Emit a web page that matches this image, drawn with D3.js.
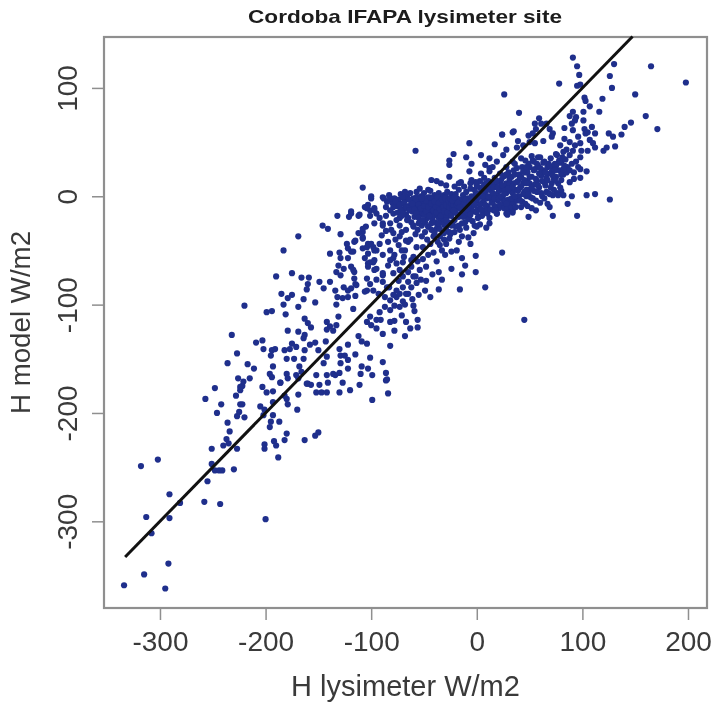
<!DOCTYPE html>
<html><head><meta charset="utf-8">
<script src="https://cdn.jsdelivr.net/npm/d3@7/dist/d3.min.js"></script>
<style>html,body{margin:0;background:#fff}svg{display:block;filter:blur(0.6px)}text{font-family:"Liberation Sans",Arial,sans-serif;fill:#333}</style>
</head><body><svg id="c" width="714" height="703"></svg>
<script>
const chartTitle="Cordoba IFAPA lysimeter site", xTitle="H lysimeter W/m2", yTitle="H model W/m2";
const xTicks=[-300,-200,-100,0,100,200], yTicks=[-300,-200,-100,0,100];
const oneToOne=[-333,147.5];
const lowTail=[[-334,-359],[-315,-349],[-295,-362],[-292,-339],[-308,-311],[-313,-296],[-291,-297],[-291,-275],[-281,-283],[-318,-249],[-302,-243],[-258,-282],[-243,-284],[-255,-263],[-200,-298],[-230,-252],[-248,-253],[-244,-253],[-241,-253],[-251,-247],[-251,-233],[-240,-230],[-237,-224],[-235,-228],[-227,-233],[-234,-217],[-236,-209],[-188,-241],[-201,-229],[-201,-233],[-192,-226],[-190,-230],[-182,-225],[-180,-219],[-163,-225],[-153,-221],[-150,-218],[-187,-208],[-196,-213],[-195,-208],[-246,-200],[-220,-204],[-227,-203],[-225,-199],[-242,-192],[-257,-187],[-248,-177],[-224,-192],[-222,-192],[-228,-184],[-224,-179],[-222,-175],[-205,-194],[-201,-197],[-202,-202],[-193,-202],[-170,-197],[-179,-192],[-180,-187],[-169,-183],[-182,-184],[-193,-190],[-203,-176],[-199,-181],[-193,-180],[-186,-172],[-160,-173],[-157,-174],[-152,-181],[-147,-181],[-142,-181],[-99,-188],[-86,-170],[-84,-182],[-120,-179],[-134,-165],[-111,-174],[-130,-181],[-149,-174],[-99,-165]];
const upperLeft=[[-169,-37],[-183,-50],[-220,-101],[-232,-128],[-227,-145],[-236,-154],[-175,-71],[-190,-74],[-166,-75],[-159,-75],[-160,-81],[-161,-86],[-149,-79],[-145,-85],[-139,-79],[-132,-18],[-146,-27],[-141,-30],[-129,-35],[-139,-53],[-119,-14],[-121,-19],[-111,-17],[-105,-28],[-108,-33],[-108,-38],[-115,-41],[-123,-44],[-122,-48],[-117,-51],[-130,-52],[-129,-57],[-122,-57],[-131,-64],[-133,-70],[-129,-73],[-126,-67],[-119,-65],[-116,-70],[-134,-87],[-132,-93],[-126,-84],[-122,-87],[-115,-81],[-119,-85],[-127,-94],[-122,-93],[-115,-92],[-133,-100],[-153,-98],[-164,-95],[-169,-102],[-185,-90],[-179,-94],[-175,-91],[-183,-100],[-199,-107],[-194,-106],[-181,-109],[-163,-113],[-160,-117],[-157,-121],[-179,-124],[-169,-125],[-163,-128],[-164,-131],[-142,-116],[-139,-120],[-142,-123],[-131,-111],[-133,-119],[-136,-124],[-117,-104],[-203,-133],[-209,-135],[-202,-141],[-194,-142],[-191,-141],[-195,-147],[-182,-142],[-175,-136],[-171,-139],[-177,-141],[-180,-150],[-173,-150],[-163,-142],[-164,-150],[-158,-137],[-153,-135],[-150,-142],[-143,-134],[-142,-148],[-145,-154],[-217,-155],[-211,-159],[-226,-168],[-215,-168],[-221,-171],[-224,-176],[-193,-157],[-196,-164],[-194,-167],[-180,-164],[-179,-168],[-186,-172],[-168,-157],[-166,-162],[-171,-165],[-169,-168],[-161,-173],[-152,-165],[-142,-165],[-136,-164],[-130,-163],[-141,-172],[-127,-172],[-130,-141],[-129,-147],[-122,-137],[-125,-147],[-115,-146],[-129,-154],[-122,-151],[-122,-159],[-109,-157],[-110,-164],[-103,-159],[-89,-153],[-86,-163],[-85,-169],[-101,-149],[-112,-129],[-109,-134],[-104,-136]];
const middleLeft=[[-82,-138],[-68,-129],[-89,-127],[-95,-122],[-82,-116],[-78,-124],[-67,-116],[-56,-114],[-56,-121],[-101,-111],[-95,-114],[-104,-116],[-100,-119],[-92,-107],[-87,-102],[-82,-105],[-78,-101],[-73,-102],[-59,-106],[-87,-93],[-82,-96],[-76,-93],[-70,-97],[-65,-90],[-76,-87],[-104,-76],[-101,-81],[-95,-77],[-98,-87],[-104,-87],[-93,-90],[-85,-84],[-89,-73],[-79,-71],[-70,-74],[-103,-62],[-98,-61],[-95,-67],[-82,-59],[-76,-62],[-70,-61],[-62,-59],[-82,-50],[-78,-54],[-103,-44],[-98,-47],[-108,-48],[-95,-50],[-103,-53],[-79,-34],[-82,-25],[-76,-22],[-89,-25],[-97,-25],[-71,-33],[-67,-41],[-101,-13],[-97,-11],[-106,-10],[-95,-16],[-100,0],[-108,-30],[-112,-34],[-108,-39],[-116,-42],[-100,-44],[-104,-47],[-97,-50],[-119,-51],[-106,-57],[-101,-61],[-97,-59],[-103,-65],[-97,-68],[-89,-71],[-89,-54],[-79,-57],[-84,-64],[-69,-56],[-73,-68],[-54,-68],[-60,-74],[-48,-65],[-65,-79],[-70,-84],[-57,-80],[-49,-87],[-44,-93],[-67,-90],[-79,-91],[-73,-90],[-89,-79],[-106,-88],[-114,-82],[-117,-68],[-116,-76],[-46,-54],[-51,-47],[-44,-44],[-60,-56],[-57,-47],[-68,-50],[-65,-42],[-74,-45],[-73,-37],[-81,-31],[-89,-27],[-67,-31],[-60,-28],[-52,-27],[-46,-28],[-73,-27],[-41,-37],[-35,-37],[-26,-39],[-21,-33],[-14,-37],[-29,-31],[-62,-65],[-56,-60],[-51,-58],[-65,-70],[-58,-74],[-53,-77],[-62,-84],[-74,-78],[-83,-84],[-68,-100],[-61,-95],[-55,-91],[-48,-78],[-42,-72],[-38,-60],[-41,-52],[-33,-50],[-52,-37],[-58,-35],[-63,-40],[-47,-40],[-38,-30],[-84,-42],[-90,-36],[-86,-32],[-77,-40],[-71,-50],[-92,-44],[-60,-101],[-71,-110],[-78,-115],[-91,-114],[-63,-122]];
const denseLeft=[[-88,-2],[-85,-5],[-83,1],[-80,-6],[-78,-2],[-76,-9],[-74,-3],[-72,2],[-71,-7],[-69,-12],[-68,-4],[-66,0],[-65,-9],[-63,3],[-62,-5],[-61,-14],[-60,-2],[-58,-8],[-57,4],[-56,-11],[-55,-4],[-54,-17],[-53,0],[-52,-7],[-51,-13],[-50,3],[-49,-3],[-48,-10],[-47,-20],[-46,-1],[-45,-6],[-44,5],[-43,-14],[-42,-3],[-41,-9],[-40,1],[-39,-17],[-38,-5],[-37,-12],[-36,3],[-35,-2],[-34,-8],[-33,-22],[-32,-15],[-31,1],[-30,-5],[-29,-11],[-28,4],[-27,-18],[-26,-3],[-25,-8],[-86,-10],[-82,-13],[-79,-16],[-75,-15],[-73,-20],[-70,-1],[-67,-17],[-64,-3],[-62,-24],[-59,-19],[-57,-1],[-55,-25],[-53,-15],[-50,-17],[-49,-24],[-47,-6],[-45,-15],[-43,-25],[-41,-18],[-39,-2],[-37,-27],[-36,-20],[-34,0],[-33,-12],[-31,-26],[-30,-18],[-28,-7],[-27,-24],[-25,-14],[-24,2],[-54,7],[-46,6],[-68,4],[-89,-1],[-82,-2],[-100,-2],[-103,-8],[-104,-11],[-119,-16],[-112,-18],[-97,-13],[-101,-18],[-92,-20],[-86,-18],[-108,8],[-79,-10],[-72,-12],[-65,-20],[-60,-9],[-56,-6],[-51,-1],[-48,-5],[-44,-9],[-40,-12],[-36,-9],[-32,-5],[-29,-1],[-58,-3],[-63,-11],[-70,-16],[-47,-14],[-42,-21],[-35,-16]];
const denseLeftFill=[[-77,-5],[-73,-8],[-69,-6],[-67,-10],[-64,-13],[-61,-7],[-59,-12],[-57,-16],[-55,-8],[-53,-11],[-52,-2],[-50,-9],[-48,-14],[-46,-10],[-45,-18],[-44,-1],[-43,-7],[-41,-13],[-40,-5],[-39,-10],[-38,-15],[-37,-1],[-36,-6],[-35,-12],[-34,-18],[-33,-3],[-32,-10],[-31,-14],[-30,-2],[-29,-8],[-28,-15],[-27,-4],[-26,-10],[-25,-2],[-24,-7],[-24,-18],[-23,-12],[-22,-1],[-22,-8],[-20,-5],[-20,-15],[-19,-2],[-18,-11],[-17,-19],[-17,-5],[-15,-7],[-14,-15],[-13,-9],[-12,-2],[-12,-13],[-10,-6],[-10,-19],[-8,-3],[-8,-15],[-6,-8],[-5,-12],[-71,-18],[-66,-22],[-60,-27],[-55,-20],[-51,-22],[-46,-28],[-40,-24],[-35,-30],[-29,-28],[-23,-24],[-17,-27],[-11,-24],[-56,-31],[-49,-33],[-43,-31],[-37,-42],[-31,-40],[-25,-35]];
const denseMid=[[-23,-4],[-22,-13],[-21,-22],[-20,2],[-19,-8],[-18,-17],[-17,6],[-16,-3],[-15,-11],[-14,-25],[-13,1],[-12,-7],[-11,-16],[-10,4],[-9,-2],[-8,-10],[-7,-21],[-6,7],[-5,0],[-4,-6],[-3,-14],[-2,-27],[-1,3],[0,-4],[1,-12],[2,-19],[3,8],[4,1],[5,-6],[6,-15],[7,11],[8,4],[9,-2],[10,-9],[11,14],[12,-20],[13,6],[14,0],[15,-5],[16,-13],[17,17],[18,9],[19,2],[20,-4],[21,-11],[22,13],[23,6],[24,-1],[25,-8],[26,19],[27,10],[28,3],[29,-5],[30,-13],[-21,-1],[-18,-6],[-16,-10],[-13,-19],[-11,-3],[-9,-12],[-7,-6],[-6,-17],[-3,-2],[-2,6],[0,10],[1,2],[3,-8],[5,5],[7,-3],[9,-11],[11,6],[13,-2],[15,12],[17,-9],[19,-16],[21,5],[23,15],[25,-3],[28,12],[30,22],[32,5],[33,-4],[12,26],[7,17],[3,14],[-1,13],[-6,12],[-12,9],[-17,12],[-26,18],[-43,15],[-38,14],[-34,12],[-29,10],[-21,9],[-15,13],[-5,15],[4,21],[12,23],[22,21],[28,27],[34,32],[-58,42],[-7,49],[-22,39],[-26,33],[-26,29],[-10,36],[-5,30],[-7,23],[17,48],[24,57],[34,59],[4,38],[12,35],[19,32],[25,38],[8,29],[15,27],[24,-52],[-1,-55],[-30,-54],[-24,-51],[-19,-50],[-14,-57],[-11,-64],[-24,-67],[-14,-72],[-1,-70],[-36,-70],[-33,-77],[-36,-86],[-16,-86],[45,-114],[8,-84],[12,-25],[0,-28],[-3,-34],[-8,-38],[-35,-45],[-29,-44],[28,-16],[34,-13],[19,-16],[-20,-28],[-16,-31],[-10,-29],[-4,-23],[3,-26],[9,-29],[-24,-27],[-29,-22],[-31,-34],[-26,-33],[-17,-42],[-6,-44],[-40,-34],[-36,-25]];
const denseMidFill=[[-2,-8],[0,-15],[1,-20],[2,-1],[3,3],[4,-12],[5,-18],[6,0],[7,6],[8,-8],[9,12],[10,-16],[11,0],[12,9],[13,-12],[14,-6],[15,3],[16,8],[17,-2],[18,-13],[19,14],[20,8],[21,-2],[22,-8],[23,0],[24,10],[25,18],[26,-11],[26,5],[27,-4],[28,20],[29,-10],[30,6],[30,-3],[31,12],[32,-9],[33,18],[34,3],[35,-6],[35,12],[36,20],[37,6],[38,-4],[39,14],[40,0],[41,8],[42,18],[43,-5],[44,12],[45,4],[46,22],[47,0],[48,14],[49,6]];
const denseRight=[[26,2],[28,-7],[30,7],[31,16],[33,-2],[34,9],[35,24],[36,0],[37,-10],[38,13],[39,5],[40,20],[41,-4],[42,9],[43,27],[44,2],[45,15],[46,-7],[47,6],[48,22],[49,30],[50,12],[51,-1],[52,18],[53,33],[54,5],[55,25],[56,-4],[57,14],[58,28],[59,8],[60,36],[61,19],[62,0],[63,24],[64,32],[65,10],[66,17],[67,27],[68,3],[69,21],[70,35],[71,12],[72,26],[73,6],[74,30],[75,18],[76,38],[78,24],[79,8],[80,31],[82,20],[84,34],[86,27],[88,13],[90,30],[92,22],[94,32],[96,27],[98,25],[36,30],[38,26],[42,35],[46,33],[41,17],[44,23],[47,12],[50,27],[52,37],[55,11],[57,30],[59,21],[61,3],[64,13],[66,4],[68,30],[71,23],[73,16],[75,28],[77,12],[81,36],[50,18],[52,8],[54,24],[56,16],[58,10],[60,26],[62,14],[63,31],[65,22],[67,15],[69,28],[70,8],[72,19],[74,24],[76,30],[78,33],[80,20],[83,28],[85,22],[54,32],[58,36],[47,27],[49,2],[53,-2],[57,4],[60,-6],[64,-2],[67,-7],[72,1],[76,3],[48,-9],[56,-13],[42,-10]];
const upperRight=[[91,128],[95,120],[97,112],[95,102],[98,103],[78,104],[130,122],[126,111],[128,100],[165,120],[198,105],[150,94],[119,90],[102,91],[103,88],[26,94],[107,83],[116,78],[101,78],[91,78],[94,73],[88,74],[93,70],[40,77],[160,74],[146,68],[140,64],[171,62],[137,57],[131,46],[59,72],[55,67],[61,67],[66,67],[56,62],[101,70],[90,67],[102,62],[83,63],[91,61],[109,64],[112,58],[103,58],[105,59],[125,58],[129,55],[69,62],[72,58],[71,55],[35,60],[24,57],[49,56],[53,58],[39,51],[38,45],[28,43],[63,51],[55,49],[50,50],[44,47],[83,53],[88,50],[96,55],[98,49],[93,47],[79,47],[85,43],[107,52],[110,49],[112,45],[105,42],[123,45],[120,42],[99,42],[98,36],[88,38],[91,42],[82,41],[75,39],[104,23],[98,17],[92,16],[88,24],[82,25],[80,15],[74,15],[90,0],[104,1],[112,2],[126,-3],[86,-7],[69,-10],[72,-18],[95,-18],[49,-19],[52,-11],[29,-17],[34,-15],[80,5],[77,1],[82,1],[69,2]];
const allPoints=[...lowTail,...upperLeft,...middleLeft,...denseLeft,...denseLeftFill,...denseMid,...denseMidFill,...denseRight,...upperRight];

const svg=d3.select("#c");
const x=d3.scaleLinear().domain([-353,218]).range([104,707]);
const y=d3.scaleLinear().domain([147,-380]).range([37,608]);
const ink="#8f8f8f";
svg.append("rect").attr("x",104).attr("y",37).attr("width",603).attr("height",571).attr("fill","none").attr("stroke",ink).attr("stroke-width",2.2);
svg.append("g").selectAll("circle").data(allPoints).join("circle")
  .attr("cx",d=>x(d[0])).attr("cy",d=>y(d[1])).attr("r",3.1).attr("fill","#1f2f8c");
svg.append("line").attr("x1",x(oneToOne[0])).attr("y1",y(oneToOne[0])).attr("x2",x(oneToOne[1])).attr("y2",y(oneToOne[1]))
  .attr("stroke","#111").attr("stroke-width",3);
const gx=svg.append("g").attr("transform","translate(0,608)").call(d3.axisBottom(x).tickValues(xTicks).tickSize(12).tickFormat(String));
const gy=svg.append("g").attr("transform","translate(104,0)").call(d3.axisLeft(y).tickValues(yTicks).tickSize(12).tickFormat(String));
[gx,gy].forEach(g=>{g.select(".domain").remove();g.selectAll("line").attr("stroke",ink).attr("stroke-width",1.5);g.selectAll("text").attr("font-size",28).style("font-family",'"Liberation Sans"').style("fill","#3a3a3a");});
gx.selectAll("text").attr("y",43).attr("dy",0);
gy.selectAll("text").attr("transform","rotate(-90)").attr("x",0).attr("y",-27).attr("dy",0).attr("text-anchor","middle");
svg.append("text").attr("x",405).attr("y",23).attr("text-anchor","middle").attr("font-weight","bold").attr("font-size",19).attr("textLength",314).attr("lengthAdjust","spacingAndGlyphs").style("fill","#1c1c1c").text(chartTitle);
svg.append("text").attr("x",405.5).attr("y",696).attr("text-anchor","middle").attr("font-size",29).style("fill","#3a3a3a").text(xTitle);
svg.append("text").attr("transform","translate(30,322.5) rotate(-90)").attr("text-anchor","middle").attr("font-size",27.7).style("fill","#3a3a3a").text(yTitle);
</script></body></html>
